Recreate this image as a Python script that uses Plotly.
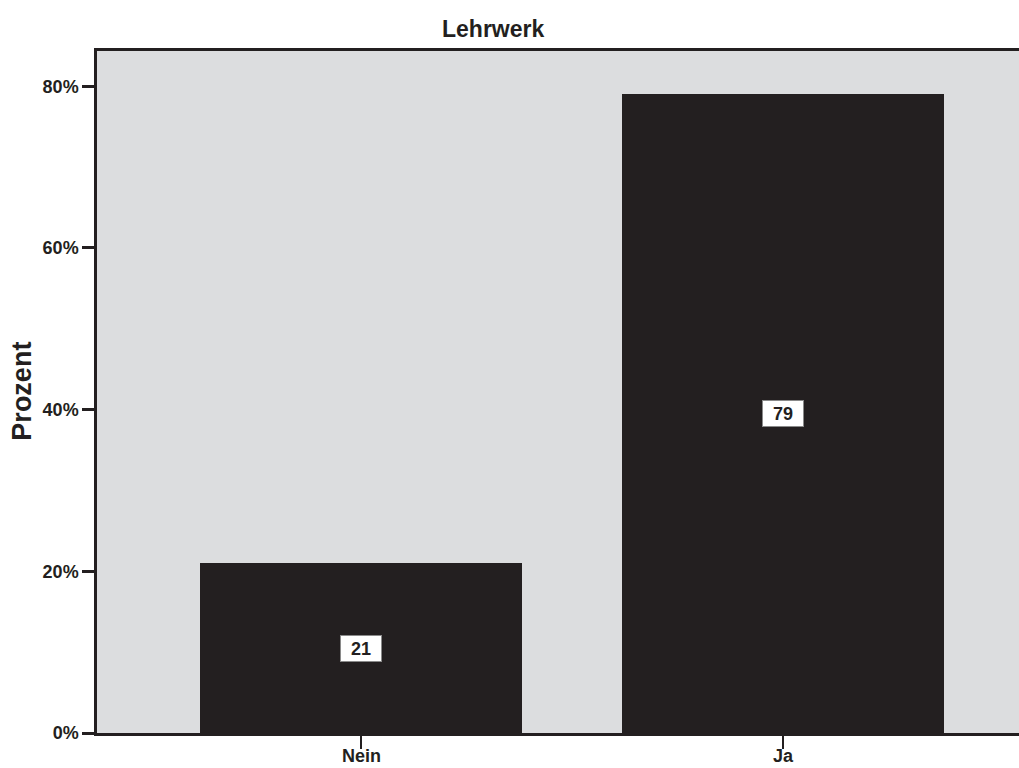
import plotly.graph_objects as go

# Lehrwerk: Verteilung der Antworten
categories = ["Nein", "Ja"]
counts = [21, 79]
total = sum(counts)
percent = [c / total * 100 for c in counts]

y_ticks = [0, 20, 40, 60, 80]
y_tick_labels = [f"{v}%" for v in y_ticks]

INK = "#231f20"
PANEL = "#dcdddf"
FONT = "Liberation Sans, Arial, Helvetica, sans-serif"

fig = go.Figure()
fig.add_trace(go.Bar(
    x=categories,
    y=percent,
    width=0.762,
    marker=dict(color=INK, line=dict(width=0)),
    hoverinfo="skip",
))

# count labels in white boxes at mid-height of each bar
for cat, cnt, pct in zip(categories, counts, percent):
    fig.add_annotation(
        x=cat, y=pct / 2, xref="x", yref="y",
        text=str(cnt), showarrow=False,
        font=dict(family=FONT, size=18, color=INK, weight="bold"),
        bgcolor="white", bordercolor="#8a8a8a", borderwidth=1,
        width=40, height=25, borderpad=0,
        xanchor="center", yanchor="middle",
    )

# category names set close under the tick marks
for cat in categories:
    fig.add_annotation(
        x=cat, y=-0.0513, xref="x", yref="paper",
        text=cat, showarrow=False,
        font=dict(family=FONT, size=18, color=INK, weight="bold"),
        xanchor="center", yanchor="bottom",
    )

fig.add_annotation(
    x=0.4295, y=1.032, xref="paper", yref="paper",
    text="Lehrwerk", showarrow=False,
    font=dict(family=FONT, size=23, color=INK, weight="bold"),
    xanchor="center", yanchor="middle",
)
fig.add_annotation(
    x=-0.081, y=0.501, xref="paper", yref="paper",
    text="Prozent", showarrow=False, textangle=-90,
    font=dict(family=FONT, size=27, color=INK, weight="bold"),
    xanchor="center", yanchor="middle",
)

fig.update_layout(
    width=1019, height=768,
    margin=dict(l=97, r=0, t=51, b=35, autoexpand=False),
    paper_bgcolor="white",
    plot_bgcolor=PANEL,
    showlegend=False,
    bargap=0,
)
fig.update_xaxes(
    type="category",
    range=[-0.626, 1.559],
    automargin=False,
    showline=True, linecolor=INK, linewidth=2.5, mirror=True,
    ticks="outside", ticklen=13, tickwidth=2, tickcolor=INK,
    showticklabels=False,
    showgrid=False, zeroline=False,
)
fig.update_yaxes(
    range=[0, 84.37],
    automargin=False,
    tickvals=y_ticks, ticktext=y_tick_labels,
    showline=True, linecolor=INK, linewidth=2.5,
    ticks="outside", ticklen=12, tickwidth=2.5, tickcolor=INK,
    tickfont=dict(family=FONT, size=18, color=INK, weight="bold"),
    showgrid=False, zeroline=False,
)

fig.write_html("out.html")
